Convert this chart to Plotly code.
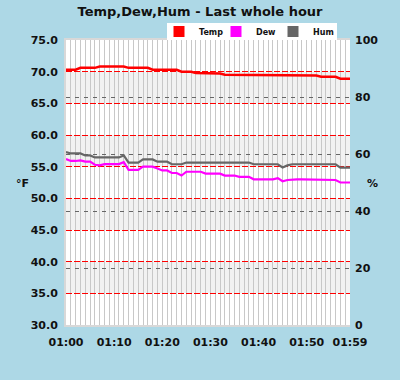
import plotly.graph_objects as go

# ---- data (one value per minute, 01:00 .. 01:59) ----
minutes = list(range(60))
temp = [70.3, 70.3, 70.3, 70.6, 70.6, 70.6, 70.6, 70.8, 70.8, 70.8,
        70.8, 70.8, 70.8, 70.6, 70.6, 70.6, 70.6, 70.6, 70.3, 70.3,
        70.3, 70.3, 70.3, 70.3, 70.0, 70.0, 70.0, 69.8, 69.8, 69.8,
        69.7, 69.7, 69.7, 69.5, 69.5, 69.5, 69.4, 69.4, 69.4, 69.4,
        69.4, 69.4, 69.4, 69.4, 69.5, 69.5, 69.5, 69.5, 69.4, 69.4,
        69.4, 69.4, 69.4, 69.2, 69.2, 69.2, 69.2, 68.9, 68.9, 68.9]
dew = [56.2, 55.9, 55.9, 56.0, 55.8, 55.8, 55.3, 55.2, 55.4, 55.4,
       55.4, 55.4, 55.7, 54.5, 54.5, 54.5, 55.0, 55.0, 55.0, 54.7,
       54.4, 54.4, 54.0, 54.0, 53.6, 54.2, 54.2, 54.2, 54.2, 53.9,
       53.9, 53.9, 53.9, 53.6, 53.6, 53.6, 53.4, 53.4, 53.4, 53.0,
       53.0, 53.0, 53.0, 53.0, 53.2, 52.7, 52.9, 53.0, 53.0, 53.0,
       53.0, 53.0, 53.0, 52.9, 52.9, 52.9, 52.9, 52.5, 52.5, 52.5]
hum = [60.7, 60.2, 60.2, 60.2, 59.5, 59.5, 58.8, 58.8, 58.8, 58.8,
       58.8, 58.8, 59.5, 57.0, 57.0, 57.0, 58.1, 58.1, 58.1, 57.3,
       57.3, 57.3, 56.4, 56.4, 56.4, 57.0, 57.0, 57.0, 57.0, 57.0,
       57.0, 57.0, 57.0, 57.0, 57.0, 57.0, 57.0, 57.0, 57.0, 56.4,
       56.4, 56.4, 56.4, 56.4, 56.4, 55.3, 56.0, 56.4, 56.4, 56.4,
       56.4, 56.4, 56.4, 56.4, 56.4, 56.4, 56.4, 55.2, 55.2, 55.2]
x_label_pos = [0, 10, 20, 30, 40, 50, 59]
x_labels = ["01:00", "01:10", "01:20", "01:30", "01:40", "01:50", "01:59"]
temp_bands = [(65, 70), (55, 60), (45, 50), (35, 40)]

BG = "#add8e6"
W, H = 400, 380
L, R, T, B = 66, 50, 40, 55
PW, PH = W - L - R, H - T - B
tick_font = dict(family="DejaVu Sans", size=11, color="#111", weight="bold")

ticktext = [x_labels[x_label_pos.index(m)] if m in x_label_pos else "" for m in minutes]

fig = go.Figure()
fig.add_trace(go.Scatter(x=minutes, y=temp, mode="lines", name="Temp",
                         line=dict(color="#ff0000", width=2.5), showlegend=False))
fig.add_trace(go.Scatter(x=minutes, y=dew, mode="lines", name="Dew",
                         line=dict(color="#ff00ff", width=2.2), showlegend=False))
fig.add_trace(go.Scatter(x=minutes, y=hum, mode="lines", name="Hum", yaxis="y2",
                         line=dict(color="#666666", width=2.2), showlegend=False))
# legend entries as squares
for nm, col in [("Temp", "#ff0000"), ("Dew", "#ff00ff"), ("Hum", "#666666")]:
    fig.add_trace(go.Scatter(x=[None], y=[None], mode="markers", name=nm,
                             marker=dict(symbol="square", size=11, color=col)))
# invisible spacer entry so the last legend label is not clipped
fig.add_trace(go.Scatter(x=[None], y=[None], mode="markers", name=" ",
                         marker=dict(symbol="square", size=1, color="rgba(0,0,0,0)")))

for lo, hi in temp_bands:
    fig.add_shape(type="rect", xref="paper", yref="y", x0=0, x1=1, y0=lo, y1=hi,
                  fillcolor="#f2f2f2", line_width=0, layer="below")

# white legend box
fig.add_shape(type="rect", xref="paper", yref="paper",
              x0=(167 - L) / PW, x1=(337 - L) / PW,
              y0=(H - B - 40) / PH, y1=(H - B - 23) / PH,
              fillcolor="white", line_width=0, layer="above")

fig.update_layout(
    width=W, height=H,
    paper_bgcolor=BG, plot_bgcolor="white",
    margin=dict(l=L, r=R, t=T, b=B, autoexpand=False),
    title=dict(text="Temp,Dew,Hum - Last whole hour", x=0.5, xanchor="center",
               y=1 - 11 / H, yanchor="middle",
               font=dict(family="DejaVu Sans", size=13, color="#111", weight="bold")),
    xaxis=dict(range=[0, 59], tickvals=minutes, ticktext=ticktext, tickangle=0,
               showgrid=True, gridcolor="#c8c8c8", gridwidth=1,
               showline=True, linecolor="#d8d8d8", linewidth=2, mirror=True,
               ticks="", tickfont=tick_font, zeroline=False, automargin=False,
               ticklabelstandoff=6),
    yaxis=dict(range=[30, 75], dtick=5, tickformat=".1f", tickfont=tick_font,
               showgrid=True, gridcolor="#ff0000", gridwidth=1, griddash="6px,2px",
               zeroline=False, showline=True, linecolor="#d8d8d8", linewidth=2,
               ticks="", ticklabelstandoff=4, automargin=False),
    yaxis2=dict(range=[0, 100], dtick=20, overlaying="y", side="right",
                tickfont=tick_font, showgrid=True, gridcolor="#666666", gridwidth=1,
                griddash="4px,5px", zeroline=False, ticks="", ticklabelstandoff=4,
                automargin=False),
    legend=dict(orientation="h", x=(159 - L) / PW, xanchor="left",
                y=(H - B - 31.5) / PH, yanchor="middle", bgcolor="rgba(0,0,0,0)",
                font=dict(family="DejaVu Sans", size=8, color="#111", weight="bold"),
                itemwidth=30, entrywidth=12, tracegroupgap=0),
    annotations=[
        dict(text="°F", xref="paper", yref="paper", x=-(L - 14) / PW, y=(H - B - 183) / PH,
             showarrow=False, font=dict(family="DejaVu Sans", size=11, color="#111", weight="bold")),
        dict(text="%", xref="paper", yref="paper", x=1 + (380 - (W - R)) / PW, y=(H - B - 183) / PH,
             showarrow=False, font=dict(family="DejaVu Sans", size=11, color="#111", weight="bold")),
    ],
)
fig.write_html("out.html", config={"displayModeBar": False},
               post_script="document.body.style.margin='0';"
                           "document.body.style.background='#add8e6';")
